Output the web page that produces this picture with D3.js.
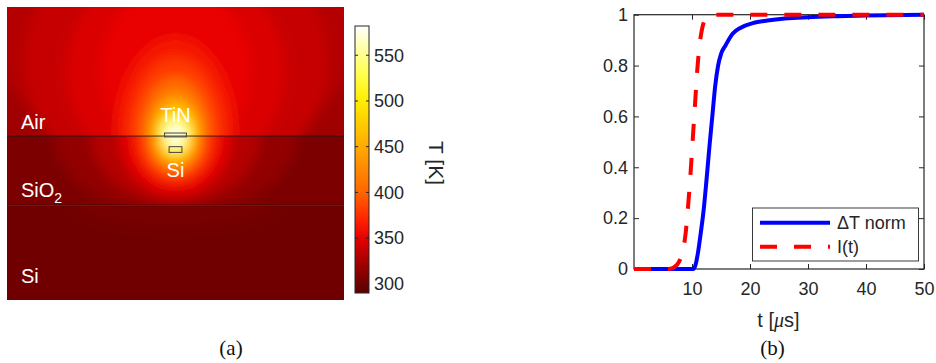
<!DOCTYPE html>
<html>
<head>
<meta charset="utf-8">
<script src="https://cdn.jsdelivr.net/npm/d3@7"></script>
<style>
  body { margin: 0; background: #fff; }
  svg { display: block; }
  text { font-family: "Liberation Sans", Arial, sans-serif; }
</style>
</head>
<body>
<svg id="fig" width="936" height="363"></svg>
<script>
// ---- panel (b): normalised traces ----
var tDT = [0, 10.2, 10.6, 11.0, 11.5, 12.0, 12.5, 13.0, 13.5, 14.0, 14.5, 15.0, 15.8, 17.0, 18.5, 20.5, 23, 26, 30, 35, 40, 50];
var vDT = [0, 0, 0.015, 0.06, 0.14, 0.23, 0.35, 0.48, 0.6, 0.72, 0.8, 0.845, 0.88, 0.925, 0.95, 0.967, 0.977, 0.985, 0.99, 0.994, 0.997, 1];
var tI = [0, 6.0, 7.0, 7.8, 8.4, 8.9, 9.3, 9.7, 10.1, 10.5, 10.9, 11.3, 11.7, 12.2, 13.0, 50];
var vI = [0, 0, 0.008, 0.03, 0.07, 0.14, 0.24, 0.36, 0.5, 0.64, 0.78, 0.88, 0.94, 0.98, 1, 1];
var xTicks = [10, 20, 30, 40, 50];
var yTicks = [0, 0.2, 0.4, 0.6, 0.8, 1];
var legendNames = ["\u0394T norm", "I(t)"];

// ---- panel (a): colour map ----
var cmapT = [290, 300, 325, 350, 370, 400, 450, 500, 530, 560, 582];
var cmapC = ["#5c0000", "#700000", "#a80000", "#e60000", "#ff2200", "#ff6600", "#ffaa00", "#ffee00", "#ffff50", "#ffffb0", "#ffffff"];
var cbarTicks = [300, 350, 400, 450, 500, 550];

// layers, y in um (0 = air / oxide interface)
var layerTop = [7.66, 0, -4.1];
var layerBot = [0, -4.1, -9.73];
var layerT = [322, 305, 300];

// isotherms (layer index, T [K], centre and half axes in um)
var isoLayer = [0, 0, 0, 0, 0, 0, 0, 0, 0, 0, 0, 0,   1, 1, 1, 1, 1, 1, 1, 1, 1, 1,   2];
var isoT =     [330, 337, 345, 352, 362, 380, 405, 450, 500, 540, 565, 582,   315, 330, 350, 375, 410, 440, 480, 520, 555, 580,   303];
var isoCy =    [6.88, 4.51, 3.92, 3.92, 0.12, 0.12, 0.12, 0.12, 0.12, 0.12, 0.12, 0.12,   -0.12, -0.12, -0.12, -0.12, -0.12, -0.12, -0.12, -0.12, -0.12, -0.12,   -4.1];
var isoRx =    [11.0, 9.0, 6.5, 4.5, 3.6, 2.8, 2.1, 1.5, 1.1, 0.8, 0.6, 0.45,   7.2, 5.0, 3.3, 2.4, 1.7, 1.35, 1.05, 0.8, 0.6, 0.42,   6];
var isoRy =    [8.5, 8.0, 6.5, 5.0, 5.8, 4.6, 3.4, 2.3, 1.4, 0.85, 0.6, 0.45,   4.5, 3.9, 3.4, 2.7, 2.1, 1.7, 1.3, 0.95, 0.65, 0.42,   1.5];

var svg = d3.select("#fig");
var ink = "#262626";
var defs = svg.append("defs");

// ================= panel (a) =================
var mx = d3.scaleLinear().domain([-10, 10]).range([7, 344]);
var my = d3.scaleLinear().domain([-9.73, 7.66]).range([300, 7]);
var color = d3.scaleLinear().domain(cmapT).range(cmapC).interpolate(d3.interpolateRgb);

defs.append("filter").attr("id", "soft")
  .attr("x", "-5%").attr("y", "-5%").attr("width", "110%").attr("height", "110%")
  .append("feGaussianBlur").attr("stdDeviation", 6).attr("edgeMode", "duplicate");

layerT.forEach(function (bg, i) {
  defs.append("clipPath").attr("id", "clip" + i)
    .append("rect")
    .attr("x", mx(-10)).attr("y", my(layerTop[i]))
    .attr("width", mx(10) - mx(-10)).attr("height", my(layerBot[i]) - my(layerTop[i]));

  var g = svg.append("g").attr("clip-path", "url(#clip" + i + ")")
    .append("g").attr("filter", "url(#soft)");

  g.append("rect")
    .attr("x", mx(-10) - 30).attr("y", my(layerTop[i]) - 30)
    .attr("width", mx(10) - mx(-10) + 60).attr("height", my(layerBot[i]) - my(layerTop[i]) + 60)
    .attr("fill", color(bg));

  var idx = d3.range(isoT.length).filter(function (k) { return isoLayer[k] === i; });
  g.selectAll("ellipse").data(idx).enter().append("ellipse")
    .attr("cx", mx(0))
    .attr("cy", function (k) { return my(isoCy[k]); })
    .attr("rx", function (k) { return mx(isoRx[k]) - mx(0); })
    .attr("ry", function (k) { return my(0) - my(isoRy[k]); })
    .attr("fill", function (k) { return color(isoT[k]); });
});

// layer boundaries
[0, -4.1].forEach(function (yy) {
  svg.append("line")
    .attr("x1", mx(-10)).attr("x2", mx(10))
    .attr("y1", my(yy)).attr("y2", my(yy))
    .attr("stroke", "#1a1a1a").attr("stroke-opacity", 0.85).attr("stroke-width", 1);
});

// heater (TiN) and silicon core outlines
svg.append("rect")
  .attr("x", mx(-0.65)).attr("y", my(0.18))
  .attr("width", mx(0.65) - mx(-0.65)).attr("height", my(-0.05) - my(0.18))
  .attr("fill", "none").attr("stroke", "#444").attr("stroke-width", 1);
svg.append("rect")
  .attr("x", mx(-0.38)).attr("y", my(-0.63))
  .attr("width", mx(0.38) - mx(-0.38)).attr("height", my(-0.97) - my(-0.63))
  .attr("fill", "none").attr("stroke", "#444").attr("stroke-width", 1);

// labels on the map
var lab = svg.append("g").attr("fill", "#fff").attr("font-size", 20);
lab.append("text").attr("x", 21).attr("y", 129).text("Air");
var sio = lab.append("text").attr("x", 21).attr("y", 197);
sio.append("tspan").text("SiO");
sio.append("tspan").attr("dy", 6).attr("font-size", 14).text("2");
lab.append("text").attr("x", 21).attr("y", 283).text("Si");
lab.append("text").attr("x", mx(0)).attr("y", 122).attr("text-anchor", "middle").text("TiN");
lab.append("text").attr("x", mx(0)).attr("y", 177).attr("text-anchor", "middle").text("Si");

// colour bar
var cb = d3.scaleLinear().domain([290, 582]).range([293, 26]);
var grad = defs.append("linearGradient").attr("id", "cbar")
  .attr("x1", 0).attr("y1", 1).attr("x2", 0).attr("y2", 0);
cmapT.forEach(function (t, i) {
  grad.append("stop").attr("offset", (t - 290) / (582 - 290)).attr("stop-color", cmapC[i]);
});
svg.append("rect").attr("x", 355).attr("y", cb(582)).attr("width", 14).attr("height", cb(290) - cb(582))
  .attr("fill", "url(#cbar)").attr("stroke", ink).attr("stroke-width", 1);
var cbt = svg.append("g").selectAll("g").data(cbarTicks).enter().append("g");
cbt.append("line").attr("x1", 355).attr("x2", 358).attr("y1", cb).attr("y2", cb).attr("stroke", ink);
cbt.append("line").attr("x1", 366).attr("x2", 369).attr("y1", cb).attr("y2", cb).attr("stroke", ink);
cbt.append("text").attr("x", 374).attr("y", cb).attr("dy", "0.35em")
  .attr("font-size", 18).attr("fill", ink).text(function (d) { return d; });
svg.append("text").attr("transform", "translate(436,163) rotate(90)")
  .attr("text-anchor", "middle").attr("dy", "0.35em")
  .attr("font-size", 21).attr("fill", ink).text("T [K]");

svg.append("text").attr("x", 231).attr("y", 355).attr("text-anchor", "middle")
  .style("font-family", "'Liberation Serif', 'Times New Roman', serif")
  .attr("font-size", 21).attr("fill", "#111").text("(a)");

// ================= panel (b) =================
var x = d3.scaleLinear().domain([0, 50]).range([634, 924]);
var y = d3.scaleLinear().domain([0, 1]).range([269, 14.7]);

function styleAxis(g) {
  g.select(".domain").remove();
  g.selectAll("line").attr("stroke", ink);
  g.selectAll("text").attr("fill", ink).attr("font-size", 18)
    .style("font-family", "'Liberation Sans', Arial, sans-serif");
}

svg.append("g").attr("transform", "translate(0," + y(0) + ")")
  .call(d3.axisBottom(x).tickValues(xTicks).tickSizeInner(-5).tickSizeOuter(0).tickPadding(13))
  .call(styleAxis);
svg.append("g").attr("transform", "translate(0," + y(1) + ")")
  .call(d3.axisTop(x).tickValues(xTicks).tickSizeInner(-5).tickSizeOuter(0).tickFormat(""))
  .call(styleAxis);
svg.append("g").attr("transform", "translate(" + x(0) + ",0)")
  .call(d3.axisLeft(y).tickValues(yTicks).tickSizeInner(-5).tickSizeOuter(0).tickPadding(6).tickFormat(d3.format("~g")))
  .call(styleAxis);
svg.append("g").attr("transform", "translate(" + x(50) + ",0)")
  .call(d3.axisRight(y).tickValues(yTicks).tickSizeInner(-5).tickSizeOuter(0).tickFormat(""))
  .call(styleAxis);

svg.append("rect").attr("x", x(0)).attr("y", y(1))
  .attr("width", x(50) - x(0)).attr("height", y(0) - y(1))
  .attr("fill", "none").attr("stroke", ink).attr("stroke-width", 1.2);

var line = d3.line()
  .x(function (d) { return x(d[0]); })
  .y(function (d) { return y(d[1]); })
  .curve(d3.curveMonotoneX);

svg.append("path").datum(d3.zip(tDT, vDT)).attr("d", line)
  .attr("fill", "none").attr("stroke", "#0000ff").attr("stroke-width", 4);
svg.append("path").datum(d3.zip(tI, vI)).attr("d", line)
  .attr("fill", "none").attr("stroke", "#ff0000").attr("stroke-width", 4)
  .attr("stroke-dasharray", "17 17");

// legend
svg.append("rect").attr("x", 752.5).attr("y", 208).attr("width", 166).attr("height", 53)
  .attr("fill", "#fff").attr("stroke", ink).attr("stroke-width", 0.9);
var leg = svg.append("g").selectAll("g").data(legendNames).enter().append("g")
  .attr("transform", function (d, i) { return "translate(0," + (222.7 + i * 24) + ")"; });
leg.append("line").attr("x1", 760).attr("x2", 830)
  .attr("stroke", function (d, i) { return i ? "#ff0000" : "#0000ff"; })
  .attr("stroke-width", 4)
  .attr("stroke-dasharray", function (d, i) { return i ? "17 17" : null; });
leg.append("text").attr("x", 837).attr("y", 6.5)
  .attr("font-size", 18).attr("fill", ink).text(function (d) { return d; });

// x label
var xl = svg.append("text").attr("x", 778.5).attr("y", 327).attr("text-anchor", "middle")
  .attr("font-size", 20).attr("fill", ink);
xl.append("tspan").text("t [");
xl.append("tspan").style("font-style", "italic").style("font-family", "'Liberation Serif', serif").text("\u03bc");
xl.append("tspan").text("s]");

svg.append("text").attr("x", 772.5).attr("y", 355).attr("text-anchor", "middle")
  .style("font-family", "'Liberation Serif', 'Times New Roman', serif")
  .attr("font-size", 21).attr("fill", "#111").text("(b)");
</script>
</body>
</html>
